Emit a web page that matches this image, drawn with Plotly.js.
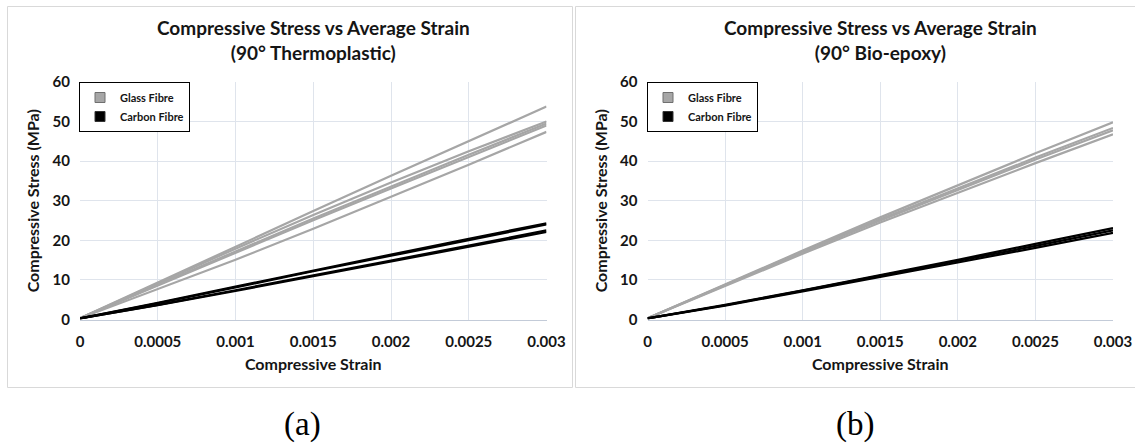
<!DOCTYPE html>
<html>
<head>
<meta charset="utf-8">
<script src="https://cdn.plot.ly/plotly-3.0.1.min.js"></script>
<style>html,body{margin:0;padding:0;background:#fff;}#chart{width:1135px;height:447px;}</style>
</head>
<body>
<div id="chart"></div>
<script>
// ---- data ----
const strain = [0, 0.0005, 0.001, 0.0015, 0.002, 0.0025, 0.003];
const xTickVals = [0, 0.0005, 0.001, 0.0015, 0.002, 0.0025, 0.003];
const xTickText = ["0", "0.0005", "0.001", "0.0015", "0.002", "0.0025", "0.003"];
const yTickVals = [0, 10, 20, 30, 40, 50, 60];

// (a) 90° Thermoplastic
const tpGlass1 = [0.3, 9.4, 18.4, 27.4, 36.3, 45.1, 53.8];
const tpGlass2 = [0.3, 9.2, 17.9, 26.4, 34.6, 42.5, 50.0];
const tpGlass3 = [0.3, 8.8, 17.2, 25.5, 33.6, 41.6, 49.5];
const tpGlass4 = [0.3, 8.6, 16.9, 25.1, 33.1, 41.1, 49.0];
const tpGlass5 = [0.3, 7.6, 15.1, 22.9, 30.9, 39.1, 47.4];
const tpCarbon1 = [0.3, 4.2, 8.3, 12.4, 16.4, 20.4, 24.3];
const tpCarbon2 = [0.3, 4.1, 8.1, 12.2, 16.1, 20.1, 24.0];
const tpCarbon3 = [0.3, 3.7, 7.4, 11.1, 14.9, 18.7, 22.5];
const tpCarbon4 = [0.3, 3.6, 7.2, 10.9, 14.6, 18.4, 22.1];

// (b) 90° Bio-epoxy
const beGlass1 = [0.3, 8.9, 17.4, 25.8, 34.0, 42.0, 49.8];
const beGlass2 = [0.3, 8.8, 17.2, 25.3, 33.2, 40.9, 48.4];
const beGlass3 = [0.3, 8.7, 17.0, 25.0, 32.8, 40.4, 47.8];
const beGlass4 = [0.3, 8.5, 16.6, 24.5, 32.1, 39.5, 46.8];
const beCarbon1 = [0.3, 3.7, 7.4, 11.2, 15.1, 19.1, 23.1];
const beCarbon2 = [0.3, 3.6, 7.3, 11.0, 14.8, 18.6, 22.5];
const beCarbon3 = [0.3, 3.5, 7.1, 10.7, 14.4, 18.1, 21.9];

const seriesNames = ["Glass Fibre", "Carbon Fibre"];
const panelTitles = [
  "Compressive Stress vs Average Strain<br>(90° Thermoplastic)",
  "Compressive Stress vs Average Strain<br>(90° Bio-epoxy)"
];
const panelLabels = ["(a)", "(b)"];
const xTitle = "Compressive Strain";
const yTitle = "Compressive Stress (MPa)";

// ---- styling ----
const GLASS = "#a6a6a6";
const CARBON = "#000000";
const FONT = "Lato, 'Open Sans', sans-serif";
const TXT = "#151515";
const W = 1135, H = 447;

function line(y, color, xa, ya) {
  return {x: strain, y: y, type: "scatter", mode: "lines", xaxis: xa, yaxis: ya,
          line: {color: color, width: 2.2}, showlegend: false, hoverinfo: "skip"};
}
function legendItem(name, color, border, legendId) {
  return {x: [null], y: [null], type: "scatter", mode: "markers", name: name,
          legend: legendId, xaxis: legendId === "legend" ? "x" : "x2",
          yaxis: legendId === "legend" ? "y" : "y2",
          marker: {symbol: "square", size: 10, color: color, line: {color: border, width: 1}}};
}

const traces = [];
[tpGlass1, tpGlass2, tpGlass3, tpGlass4, tpGlass5].forEach(s => traces.push(line(s, GLASS, "x", "y")));
[tpCarbon1, tpCarbon2, tpCarbon3, tpCarbon4].forEach(s => traces.push(line(s, CARBON, "x", "y")));
[beGlass1, beGlass2, beGlass3, beGlass4].forEach(s => traces.push(line(s, GLASS, "x2", "y2")));
[beCarbon1, beCarbon2, beCarbon3].forEach(s => traces.push(line(s, CARBON, "x2", "y2")));
traces.push(legendItem(seriesNames[0], GLASS, "#6f6f6f", "legend"));
traces.push(legendItem(seriesNames[1], CARBON, "#333333", "legend"));
traces.push(legendItem(seriesNames[0], GLASS, "#6f6f6f", "legend2"));
traces.push(legendItem(seriesNames[1], CARBON, "#333333", "legend2"));

const px = v => v / W;
const py = v => 1 - v / H;

function xAxis(domain, anchor) {
  return {domain: domain, anchor: anchor, range: [0, 0.003], tickvals: xTickVals, ticktext: xTickText,
          showgrid: true, gridcolor: "#dfe4ec", gridwidth: 1, zeroline: false,
          showline: true, linecolor: "#c3cbd8", linewidth: 1, ticks: "",
          ticklabelstandoff: 8,
          tickfont: {family: FONT, size: 15, color: TXT, weight: 700},
          title: {text: xTitle, standoff: 10, font: {family: FONT, size: 16, color: TXT, weight: 700}},
          fixedrange: true};
}
function yAxis(domain, anchor) {
  return {domain: domain, anchor: anchor, range: [0, 60], tickvals: yTickVals,
          showgrid: true, gridcolor: "#dfe4ec", gridwidth: 1, zeroline: false,
          showline: false, ticks: "", ticklabelstandoff: 9,
          tickfont: {family: FONT, size: 15, color: TXT, weight: 700},
          title: {text: yTitle, standoff: 8, font: {family: FONT, size: 16, color: TXT, weight: 700}},
          fixedrange: true};
}

const yDom = [py(319.5), py(82)];
const legendBase = {yanchor: "top", xanchor: "left", bgcolor: "#ffffff", bordercolor: "#000000",
                    borderwidth: 1, itemwidth: 30, tracegroupgap: 0,
                    font: {family: FONT, size: 11, color: TXT, weight: 700}};
const layout = {
  width: W, height: H,
  margin: {l: 0, r: 0, t: 0, b: 0},
  paper_bgcolor: "#ffffff", plot_bgcolor: "#ffffff",
  xaxis: xAxis([px(80), px(546.5)], "y"),
  yaxis: yAxis(yDom, "x"),
  xaxis2: xAxis([px(647.5), px(1113)], "y2"),
  yaxis2: yAxis(yDom, "x2"),
  legend: Object.assign({x: px(79), y: py(82)}, legendBase),
  legend2: Object.assign({x: px(647), y: py(82)}, legendBase),
  shapes: [
    {type: "rect", xref: "paper", yref: "paper", x0: px(7.5), x1: px(572.5), y0: py(387.5), y1: py(6.5),
     line: {color: "#d9d9d9", width: 1}, layer: "below"},
    {type: "rect", xref: "paper", yref: "paper", x0: px(575.5), x1: px(1140), y0: py(387.5), y1: py(6.5),
     line: {color: "#d9d9d9", width: 1}, layer: "below"}
  ],
  annotations: [
    {text: panelTitles[0], xref: "paper", yref: "paper", x: px(313), y: py(40), xanchor: "center", yanchor: "middle",
     showarrow: false, font: {family: FONT, size: 19, color: TXT, weight: 700}},
    {text: panelTitles[1], xref: "paper", yref: "paper", x: px(880), y: py(40), xanchor: "center", yanchor: "middle",
     showarrow: false, font: {family: FONT, size: 19, color: TXT, weight: 700}},
    {text: panelLabels[0], xref: "paper", yref: "paper", x: px(302), y: py(424), xanchor: "center", yanchor: "middle",
     showarrow: false, font: {family: "'Liberation Serif', 'DejaVu Serif', serif", size: 33, color: "#000000"}},
    {text: panelLabels[1], xref: "paper", yref: "paper", x: px(855), y: py(424), xanchor: "center", yanchor: "middle",
     showarrow: false, font: {family: "'Liberation Serif', 'DejaVu Serif', serif", size: 33, color: "#000000"}}
  ]
};

Plotly.newPlot("chart", traces, layout, {displayModeBar: false, staticPlot: true});
</script>
</body>
</html>
